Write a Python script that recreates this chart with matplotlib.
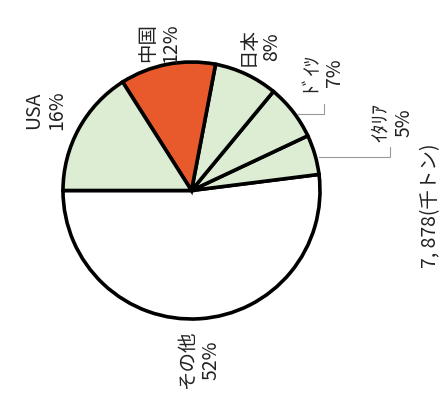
import numpy as np
import matplotlib
matplotlib.use("Agg")
import matplotlib.pyplot as plt

# Share of world production, total 7,878 thousand tonnes
countries = ["その他", "ｲﾀﾘｱ", "ﾄﾞｲﾂ", "日本", "中国", "USA"]
shares = [52, 5, 7, 8, 12, 16]
total_label = "7, 878(千トン)"

colors = ["#ffffff", "#dcedd3", "#dcedd3", "#dcedd3", "#e85a2c", "#dcedd3"]

plt.rcParams["font.family"] = ["Noto Sans CJK JP", "DejaVu Sans"]

W, H = 446, 404
fig = plt.figure(figsize=(W / 100, H / 100), dpi=100)
ax = fig.add_axes([0, 0, 1, 1])

cx, cy, r = 191.5, 213.5, 128.5
wedges, _ = ax.pie(shares, colors=colors, startangle=180, counterclock=True,
                   center=(cx, cy), radius=r, frame=True,
                   wedgeprops=dict(edgecolor="black", linewidth=2.6))
ax.set_xlim(0, W)
ax.set_ylim(0, H)
ax.set_aspect("equal")
ax.axis("off")

fs = 14
txt = dict(rotation=90, ha="center", va="center", multialignment="center",
           fontsize=fs, color="#222222", linespacing=1.15)

# label centres (rotated text, reading bottom to top)
label_pos = {
    "その他": (199, 44),
    "ｲﾀﾘｱ": (392, 281),
    "ﾄﾞｲﾂ": (323, 331),
    "日本": (260, 357),
    "中国": (159, 361),
    "USA": (45, 294),
}
for name, val in zip(countries, shares):
    x, y = label_pos[name]
    ax.text(x, y, f"{name}\n{val}%", **txt)

ax.text(431, 198, total_label, **txt)

# leader lines for the two small slices
angles = np.cumsum([0] + shares)
for name, end_x in [("ﾄﾞｲﾂ", 324), ("ｲﾀﾘｱ", 390)]:
    i = countries.index(name)
    mid = np.deg2rad(180 + (angles[i] + angles[i + 1]) / 2 * 3.6)
    px, py = cx + r * np.cos(mid), cy + r * np.sin(mid)
    ax.plot([px + 4, end_x, end_x], [py - 2, py - 2, py + 8],
            color="#9a9a9a", linewidth=0.8, solid_joinstyle="miter")

fig.savefig("out.png", dpi=100, facecolor="white")
